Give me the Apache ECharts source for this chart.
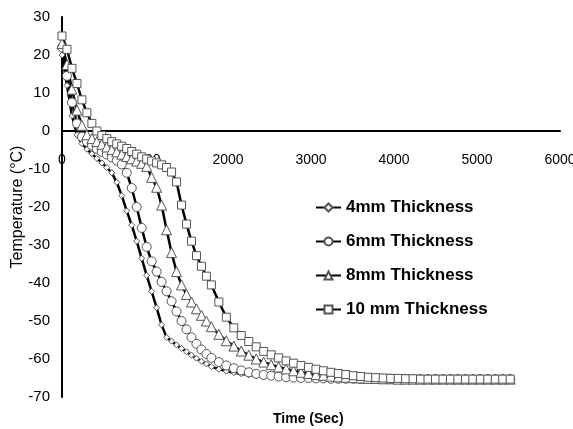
<!DOCTYPE html>
<html>
<head>
<meta charset="utf-8">
<script src="https://cdn.jsdelivr.net/npm/echarts@6/dist/echarts.min.js"></script>
<style>
html,body{margin:0;padding:0;background:#fff;}
#chart{width:573px;height:429px;}
</style>
</head>
<body>
<div id="chart"></div>
<script>
// time (sec)
var times=[0,60,120,180,240,300,360,420,480,540,
	600,660,720,780,840,900,960,1020,1080,1140,
	1200,1260,1320,1380,1440,1500,1560,1620,1680,1740,
	1800,1890,1980,2070,2160,2250,2340,2430,2520,2610,
	2700,2790,2880,2970,3060,3150,3240,3330,3420,3510,
	3600,3690,3780,3870,3960,4050,4140,4230,4320,4410,
	4500,4590,4680,4770,4860,4950,5040,5130,5220,5310,
	5400];

// temperature (°C)
var t4mm=[20,12,4,-1,-3.3,-4.8,-6,-7.2,-8.4,-9.6,
	-11,-13.5,-17,-21,-24.8,-29,-33.5,-38,-42.2,-46.5,
	-51,-54.3,-55.3,-56.3,-57.2,-58.1,-59,-59.8,-60.6,-61.3,
	-62,-62.7,-63.2,-63.6,-63.9,-64.2,-64.4,-64.6,-64.7,-64.8,
	-64.9,-65,-65,-65.1,-65.1,-65.1,-65.2,-65.2,-65.2,-65.2,
	-65.2,-65.3,-65.3,-65.3,-65.3,-65.3,-65.3,-65.3,-65.3,-65.3,
	-65.3,-65.3,-65.3,-65.3,-65.3,-65.3,-65.3,-65.3,-65.3,-65.3,
	-65.3];
var t6mm=[22,14.5,7.5,2,-1.5,-2.8,-3.8,-4.7,-5.5,-6.2,
	-7,-7.8,-8.8,-11,-15,-20,-25.5,-30.5,-34.3,-37,
	-39.7,-42.2,-44.8,-47.5,-50,-52.2,-54.3,-56,-57.5,-58.7,
	-59.7,-60.8,-61.7,-62.4,-63,-63.5,-63.9,-64.2,-64.4,-64.6,
	-64.8,-64.9,-65,-65,-65.1,-65.1,-65.2,-65.2,-65.2,-65.2,
	-65.3,-65.3,-65.3,-65.3,-65.3,-65.3,-65.3,-65.3,-65.3,-65.3,
	-65.3,-65.3,-65.3,-65.3,-65.3,-65.3,-65.3,-65.3,-65.3,-65.3,
	-65.3];
var t8mm=[23,17.5,11,5.5,1.5,-1,-2,-2.8,-3.5,-4.2,
	-4.9,-5.5,-6.1,-6.7,-7.3,-7.9,-8.5,-9.3,-12.2,-14.8,
	-19.5,-26,-32,-37,-40.5,-43,-45,-46.8,-48.5,-50,
	-51.5,-53.5,-55.2,-56.6,-57.9,-59,-60,-60.8,-61.5,-62.1,
	-62.6,-63.1,-63.5,-63.8,-64.1,-64.3,-64.5,-64.7,-64.8,-64.9,
	-65,-65.1,-65.1,-65.2,-65.2,-65.3,-65.3,-65.3,-65.3,-65.3,
	-65.3,-65.3,-65.3,-65.3,-65.3,-65.3,-65.3,-65.3,-65.3,-65.3,
	-65.3];
var t10mm=[25,21.5,16.5,12.5,8.2,4.8,2,0,-1.2,-2,
	-2.8,-3.4,-4,-4.6,-5.4,-6.1,-6.8,-7.4,-7.9,-8.4,
	-8.9,-9.6,-10.8,-13.4,-19.5,-24.5,-29,-32.8,-35.6,-38.2,
	-40.5,-45,-49,-51.8,-53.8,-55.4,-56.8,-58,-58.9,-59.7,
	-60.5,-61.1,-61.7,-62.2,-62.7,-63.1,-63.5,-63.8,-64.1,-64.4,
	-64.6,-64.8,-64.9,-65,-65.1,-65.1,-65.2,-65.2,-65.3,-65.3,
	-65.3,-65.3,-65.3,-65.3,-65.3,-65.3,-65.3,-65.3,-65.3,-65.3,
	-65.3];

var names=['4mm Thickness','6mm Thickness','8mm Thickness','10 mm Thickness'];
var temps=[t4mm,t6mm,t8mm,t10mm];
var symbols=['diamond','circle','triangle','rect'];
var sizes=[6,9,10,8];
var font='Arial, "Liberation Sans", sans-serif';

function pairs(y){
	var out=[];
	for(var i=0;i<times.length;i++){
		out.push([times[i],y[i]]);
	}
	return out;
}

var series=[];
for(var k=0;k<names.length;k++){
	series.push({
		name:names[k],
		type:'line',
		data:pairs(temps[k]),
		symbol:symbols[k],
		symbolSize:sizes[k],
		showAllSymbol:true,
		lineStyle:{color:'#000',width:2.5},
		itemStyle:{color:'#fff',borderColor:'#555',borderWidth:1},
		emphasis:{disabled:true},
		animation:false
	});
}

var option={
	backgroundColor:'#fff',
	animation:false,
	grid:{left:62,right:13,top:17,bottom:32,outerBoundsMode:'none',containLabel:false},
	legend:{
		orient:'vertical',
		left:310,
		top:194,
		itemGap:17,
		itemWidth:25,
		itemHeight:10,
		data:names,
		textStyle:{fontFamily:font,fontWeight:'bold',fontSize:17,color:'#000'}
	},
	xAxis:{
		type:'value',
		min:0,max:6000,interval:1000,
		// x axis line sits at 0 °C; labels follow it
		offset:-266,
		axisLine:{onZero:false,lineStyle:{color:'#000',width:2}},
		axisTick:{show:false},
		splitLine:{show:false},
		axisLabel:{margin:22,color:'#000',fontFamily:font,fontSize:14,
			formatter:function(v){return String(v);}}
	},
	yAxis:{
		type:'value',
		min:-70,max:30,interval:10,
		name:'Temperature (°C)',
		nameLocation:'middle',
		nameGap:36,
		nameMoveOverlap:false,
		nameTextStyle:{fontFamily:font,fontSize:16,color:'#000'},
		axisLine:{show:true,lineStyle:{color:'#000',width:2}},
		axisTick:{show:false},
		splitLine:{show:false},
		axisLabel:{margin:12,color:'#000',fontFamily:font,fontSize:15}
	},
	graphic:[{
		type:'text',
		left:273,
		top:412,
		style:{text:'Time (Sec)',font:'bold 14px '+font,fill:'#000'}
	}],
	series:series
};

var mychart=echarts.init(document.getElementById('chart'));
mychart.setOption(option);
</script>
</body>
</html>
